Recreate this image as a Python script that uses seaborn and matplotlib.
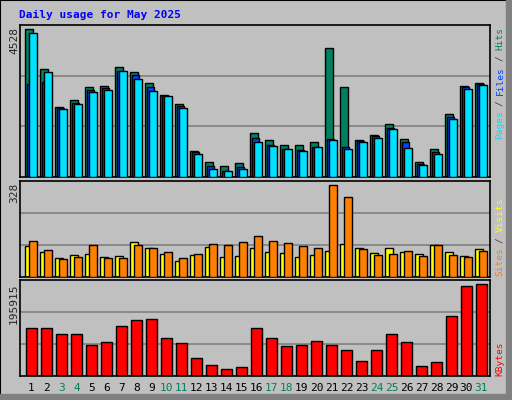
import matplotlib
matplotlib.use("Agg")
import matplotlib.pyplot as plt
import seaborn as sns
import numpy as np
import pandas as pd
from matplotlib.patches import Rectangle

days = list(range(1, 32))
hits = [4528,3299,2151,2346,2745,2776,3360,3206,2868,2500,2223,809,471,348,440,
        1362,1147,994,994,1086,3944,2745,1147,1301,1639,1178,471,871,1946,2776,2868]
files = [2848,2909,2130,2284,2653,2715,3247,3114,2745,2479,2182,778,348,195,318,
         1209,994,871,840,932,1178,932,1117,1270,1516,1086,410,778,1854,2745,2838]
pages = [4405,3206,2100,2223,2592,2653,3237,2991,2622,2469,2130,717,256,195,256,
         1086,963,871,809,932,1147,871,1086,1209,1485,901,379,717,1792,2684,2807]
sites = [110,89,68,78,82,71,75,125,103,82,57,78,107,71,75,103,89,86,71,78,93,118,103,86,103,89,82,114,89,75,100]
visits = [128,96,64,71,114,68,68,114,103,89,68,82,118,114,125,146,128,121,110,103,328,285,100,78,82,93,75,114,78,71,93]
kbytes = [101186,101186,90422,90422,66740,73200,105500,118400,120560,81800,71050,38750,23680,15070,19380,
          101186,81800,64590,66740,75350,66740,55980,32300,55980,90422,73200,21530,30140,127020,191610,195915]
weekend = [3,4,10,11,17,18,24,25,31]

sns.set_style("white")
plt.rcParams['font.family'] = ['DejaVu Sans Mono']
BG = "#C0C0C0"
fig = plt.figure(figsize=(5.12, 4.0), dpi=100, facecolor=BG)
W, H = 512, 400

fig.patches.append(Rectangle((0, 0), 1, 1, transform=fig.transFigure, fill=False, edgecolor="black", lw=1.5))
fig.patches.append(Rectangle((506/W, 0), 6/W, 1, transform=fig.transFigure, color="#808080"))
fig.patches.append(Rectangle((0, 0), 1, 6/H, transform=fig.transFigure, color="#808080"))

def mkax(top, bottom):
    ax = fig.add_axes([20/W, (H-bottom)/H, 470/W, (bottom-top)/H])
    ax.set_facecolor(BG)
    ax.set_xlim(0.27, 31.6)
    ax.set_xticks([]); ax.set_yticks([])
    for s in ax.spines.values():
        s.set_color("black"); s.set_linewidth(1.2)
    return ax

def grid(ax, ymax):
    for f in (1/3, 2/3):
        ax.axhline(ymax*f, color="#808080", lw=1.2, zorder=0)

ek = dict(edgecolor="black", linewidth=1.0, align="edge")
d = np.array(days)

ax1 = mkax(25, 177)
ym1 = 4660
ax1.set_ylim(0, ym1); grid(ax1, ym1)
ax1.bar(d-0.38, hits, width=0.49, color="#00805F", zorder=2, **ek)
ax1.bar(d-0.29, files, width=0.49, color="#0040FF", zorder=3, **ek)
ax1.bar(d-0.11, pages, width=0.49, color="#00E0FF", zorder=4, **ek)

ax2 = mkax(181, 277)
ym2 = 341
ax2.set_ylim(0, ym2); grid(ax2, ym2)
ax2.bar(d-0.38, sites, width=0.51, color="#FFFF00", zorder=2, **ek)
ax2.bar(d-0.11, visits, width=0.49, color="#FF8000", zorder=3, **ek)

ax3 = mkax(280, 376)
ym3 = 204500
df = pd.DataFrame({"day": days, "kb": kbytes})
sns.barplot(data=df, x="day", y="kb", ax=ax3, color="#FF0000", saturation=1,
            width=0.69, edgecolor="black", linewidth=1.0, native_scale=True, zorder=2)
for p in ax3.patches:
    p.set_x(p.get_x() + 0.035)
ax3.set_xlim(0.27, 31.6); ax3.set_ylim(0, ym3); grid(ax3, ym3)
ax3.set_xlabel(""); ax3.set_ylabel(""); ax3.set_xticks([]); ax3.set_yticks([])

for dd in days:
    col = "#00805F" if dd in weekend else "black"
    ax3.text(dd + 0.03, -0.13, str(dd), transform=ax3.get_xaxis_transform(), ha="center",
             va="center", fontsize=8, color=col)

fig.text(19/W, 1-15/H, "Daily usage for May 2025", color="#0000FF", fontsize=8, fontweight="bold", va="center")

for txt, ytop in (("4528", 27), ("328", 183), ("195915", 283)):
    fig.text(14/W, 1-ytop/H, txt, rotation=90, ha="center", va="top", fontsize=8)

cw = 5.55
def rlabel(parts, ybot):
    y = ybot
    for t, c in parts:
        n = len(t)
        s = t.strip()
        off = (n - len(t.lstrip())) * cw
        fig.text(500/W, 1-(y-off)/H, s, rotation=90, ha="center", va="bottom", fontsize=6.8, color=c)
        y -= cw*n
rlabel([("Pages", "#00E0FF"), (" / ", "#404040"), ("Files", "#0040FF"), (" / ", "#404040"), ("Hits", "#00805F")], 139)
rlabel([("Sites", "#FF8000"), (" / ", "#404040"), ("Visits", "#FFFF00")], 276)
rlabel([("KBytes", "#FF0000")], 376)

fig.savefig("out.png", dpi=100, facecolor=BG)
